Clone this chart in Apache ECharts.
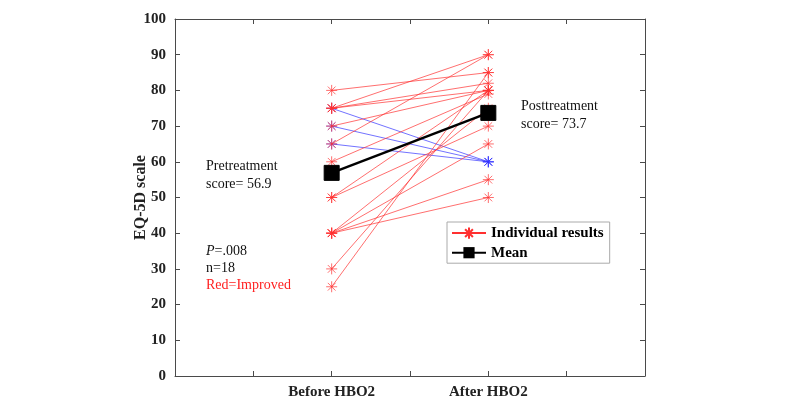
<!DOCTYPE html>
<html>
<head>
<meta charset="utf-8">
<script src="https://cdn.jsdelivr.net/npm/echarts@6/dist/echarts.min.js"></script>
<style>html,body{margin:0;padding:0;background:#fff}#c{width:800px;height:400px}</style>
</head>
<body>
<div id="c"></div>
<script>
const categories = ['Before HBO2', 'After HBO2'];
const categoryPositions = [1, 2];
const preScores  = [80, 75, 75, 75, 75, 70, 70, 65, 65, 60, 50, 50, 40, 40, 40, 40, 30, 25];
const postScores = [85, 90, 80, 82, 60, 80, 60, 90, 60, 79, 70, 80, 55, 50, 75, 65, 80, 85];
const meanScores = [56.9, 73.7];
const yTicks = [0, 10, 20, 30, 40, 50, 60, 70, 80, 90, 100];
const annotations = {
  pre: ['Pretreatment', 'score= 56.9'],
  post: ['Posttreatment', 'score= 73.7'],
  stats: ['P=.008', 'n=18', 'Red=Improved']
};

const serif = '"Liberation Serif", "DejaVu Serif", serif';
const star = 'path://M0,-5L0,5M-5,0L5,0M-3.5,-3.5L3.5,3.5M-3.5,3.5L3.5,-3.5';

const series = [];
const idx = preScores.map((p, i) => i);
const redIdx = idx.filter(i => postScores[i] > preScores[i]);
const blueIdx = idx.filter(i => postScores[i] <= preScores[i]);
function addSeries(i, improved) {
  const col = improved ? '#ff3030' : '#3535ff';
  series.push({
    name: improved ? 'Individual results' : 'Not improved',
    type: 'line',
    data: [[categoryPositions[0], preScores[i]], [categoryPositions[1], postScores[i]]],
    symbol: star,
    symbolSize: 11,
    lineStyle: { color: col, width: 0.7 },
    itemStyle: { color: 'none', borderColor: col, borderWidth: 0.7 },
    emphasis: { disabled: true },
    animation: false,
    z: improved ? 3 : 2
  });
}
redIdx.forEach(i => addSeries(i, true));
blueIdx.forEach(i => addSeries(i, false));
series.push({
  name: 'Mean',
  type: 'line',
  data: [[categoryPositions[0], meanScores[0]], [categoryPositions[1], meanScores[1]]],
  symbol: 'rect',
  symbolSize: 15,
  lineStyle: { color: '#000', width: 2.5 },
  itemStyle: { color: '#000', borderColor: '#000' },
  emphasis: { disabled: true },
  animation: false,
  z: 5
});
// empty series so the top and right mirror axes are drawn
series.push({ type: 'line', xAxisIndex: 1, yAxisIndex: 1, data: [], silent: true });

const axisCol = '#4a4a4a';
const tick = { show: true, inside: true, length: 5, lineStyle: { color: axisCol, width: 1 } };
const option = {
  animation: false,
  backgroundColor: '#fff',
  grid: { left: 175, right: 155, top: 19, bottom: 24, containLabel: false },
  legend: {
    data: ['Individual results', 'Mean'],
    orient: 'vertical',
    left: 447, top: 222,
    itemWidth: 34, itemHeight: 14, itemGap: 4,
    padding: [3, 6, 3, 4],
    borderColor: '#aaa', borderWidth: 1, backgroundColor: '#fff',
    textStyle: { fontFamily: serif, fontWeight: 'bold', fontSize: 15, color: '#000' }
  },
  xAxis: [{
    type: 'value', min: 0, max: 3, interval: 0.5,
    axisLine: { show: true, onZero: false, lineStyle: { color: axisCol, width: 1 } },
    axisTick: tick,
    splitLine: { show: false },
    axisLabel: {
      margin: 9,
      fontFamily: serif, fontWeight: 'bold', fontSize: 15, color: '#222',
      formatter: v => { const k = categoryPositions.indexOf(v); return k >= 0 ? categories[k] : ''; }
    }
  }, {
    type: 'value', min: 0, max: 3, interval: 0.5, position: 'top',
    axisLine: { show: true, onZero: false, lineStyle: { color: axisCol, width: 1 } },
    axisTick: tick,
    axisLabel: { show: false }, splitLine: { show: false }
  }],
  yAxis: [{
    type: 'value', min: yTicks[0], max: yTicks[yTicks.length - 1], interval: 10,
    name: 'EQ-5D scale', nameLocation: 'middle', nameGap: 26, nameMoveOverlap: false,
    nameTextStyle: { fontFamily: serif, fontWeight: 'bold', fontSize: 16, color: '#222' },
    axisLine: { show: true, onZero: false, lineStyle: { color: axisCol, width: 1 } },
    axisTick: tick,
    splitLine: { show: false },
    axisLabel: { margin: 9, fontFamily: serif, fontWeight: 'bold', fontSize: 15, color: '#222' }
  }, {
    type: 'value', min: yTicks[0], max: yTicks[yTicks.length - 1], interval: 10, position: 'right',
    axisLine: { show: true, onZero: false, lineStyle: { color: axisCol, width: 1 } },
    axisTick: tick,
    axisLabel: { show: false }, splitLine: { show: false }
  }],
  graphic: [
    { type: 'text', left: 206, top: 157, style: { text: annotations.pre.join('\n'), font: '14px ' + serif, fill: '#111', lineHeight: 18 } },
    { type: 'text', left: 521, top: 97, style: { text: annotations.post.join('\n'), font: '14px ' + serif, fill: '#111', lineHeight: 18 } },
    { type: 'text', left: 206, top: 243, style: {
        text: '{i|P}=.008\n' + annotations.stats[1],
        font: '14px ' + serif, fill: '#111', lineHeight: 17,
        rich: { i: { fontStyle: 'italic', fontFamily: serif, fontSize: 14, fill: '#111' } }
      } },
    { type: 'text', left: 206, top: 277, style: { text: annotations.stats[2], font: '14px ' + serif, fill: '#ff2020', lineHeight: 17 } }
  ],
  series: series
};
const chart = echarts.init(document.getElementById('c'), null, { renderer: 'canvas' });
chart.setOption(option);
</script>
</body>
</html>
